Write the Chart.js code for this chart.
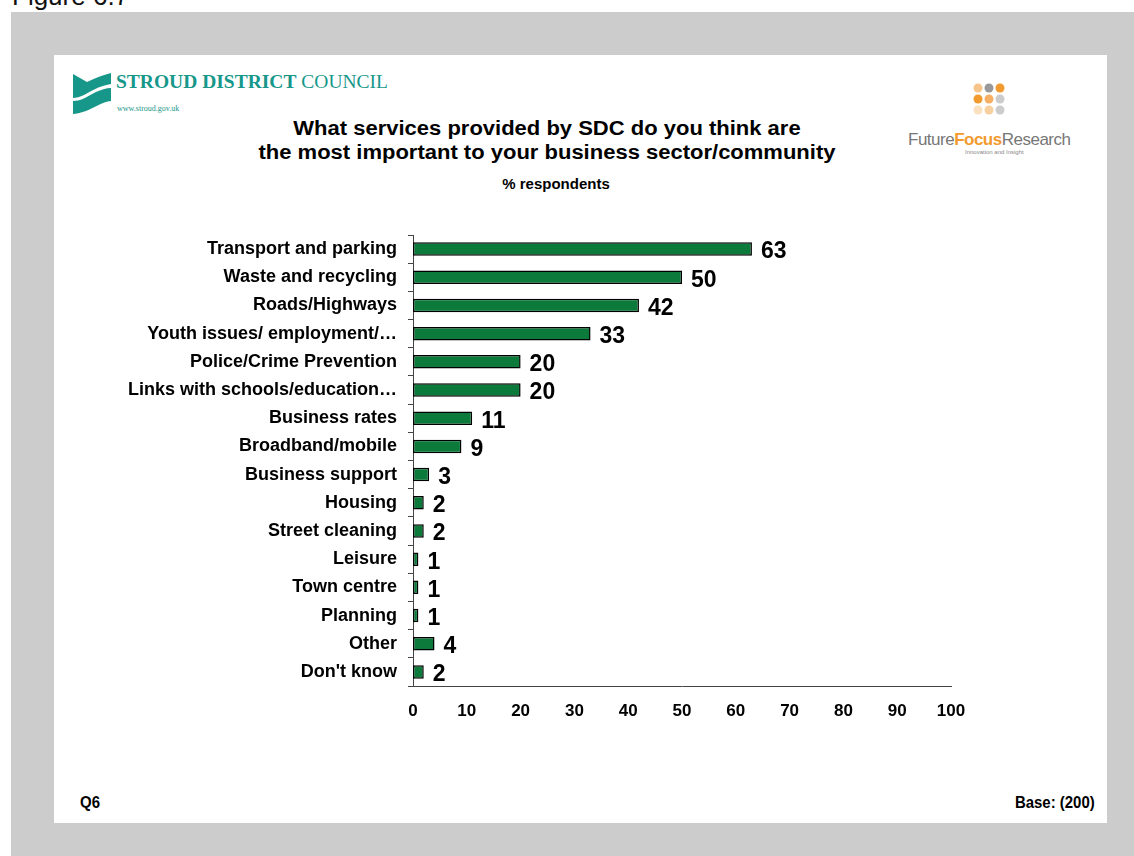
<!DOCTYPE html>
<html>
<head>
<meta charset="utf-8">
<script src="https://cdn.jsdelivr.net/npm/chart.js@4"></script>
<style>
  html, body { margin: 0; padding: 0; background: #fff; width: 1134px; height: 856px; overflow: hidden; font-family: "Liberation Sans", Arial, sans-serif; }
  #figlabel { position: absolute; left: 12px; top: -17px; font-size: 26px; line-height: 26px; color: #111; }
  #grey { position: absolute; left: 11px; top: 12px; right: 0; bottom: 0; background: #cccccc; }
  #slide { position: absolute; left: 54px; top: 55px; width: 1053px; height: 768px; background: #fff; }
  #chartbox { position: absolute; left: 0; top: 0; width: 1134px; height: 856px; }
  .t { position: absolute; white-space: nowrap; }
  #title { left: 0; width: 1094px; top: 116px; text-align: center; font-weight: bold; font-size: 20px; line-height: 24px; color: #000; transform: scaleX(1.1); }
  #sub { left: 0; width: 1112px; top: 175px; text-align: center; font-weight: bold; font-size: 15px; color: #000; }
  #q6 { left: 80px; top: 793px; font-weight: bold; font-size: 17px; transform: scaleX(0.88); transform-origin: left center; }
  #base { right: 39px; top: 793px; font-weight: bold; font-size: 17px; transform: scaleX(0.88); transform-origin: right center; }
  #sdc { left: 116px; top: 71px; font-family: "Liberation Serif", "DejaVu Serif", serif; font-size: 19.5px; color: #17978a; }
  #www { left: 117px; top: 104px; font-family: "Liberation Serif", serif; font-size: 8px; color: #17978a; }
  #ffr { left: 908px; top: 130px; font-size: 17px; color: #777; letter-spacing: -0.5px; }
  #ffr b { color: #f29a2e; }
  #innov { left: 965px; top: 149px; font-size: 6px; color: #888; }
</style>
</head>
<body>
<div id="figlabel">Figure 6.7</div>
<div id="grey"></div>
<div id="slide"></div>

<svg class="t" style="left:70px;top:70px" width="42" height="46" viewBox="0 0 42 46">
  <path d="M3 4 L17 12 C25 8 33 5 41 3 L41 14 C28 16 20 22 14 25 C10 27 6 28 3 28 Z" fill="#17978a"/>
  <path d="M3 31 C12 31 18 26 26 22 C31 20 36 18 41 18 L41 31 C32 32 24 38 16 41 C10 43 6 44 3 44 Z" fill="#17978a"/>
</svg>
<div class="t" id="sdc"><b>STROUD DISTRICT</b> COUNCIL</div>
<div class="t" id="www">www.stroud.gov.uk</div>

<svg class="t" style="left:972px;top:82px" width="36" height="36">
  <circle cx="6" cy="6" r="4.5" fill="#f7c48a"/><circle cx="17" cy="6" r="4.5" fill="#999"/><circle cx="28" cy="6" r="4.5" fill="#f29a2e"/>
  <circle cx="6" cy="17" r="4.5" fill="#f29a2e"/><circle cx="17" cy="17" r="4.5" fill="#f5b066"/><circle cx="28" cy="17" r="4.5" fill="#ccc"/>
  <circle cx="6" cy="28" r="4.5" fill="#fbe0c0"/><circle cx="17" cy="28" r="4.5" fill="#f8d0a0"/><circle cx="28" cy="28" r="4.5" fill="#ccc"/>
</svg>
<div class="t" id="ffr">Future<b>Focus</b>Research</div>
<div class="t" id="innov">Innovation and Insight</div>

<div class="t" id="title">What services provided by SDC do you think are<br>the most important to your business sector/community</div>
<div class="t" id="sub">% respondents</div>
<div class="t" id="q6">Q6</div>
<div class="t" id="base">Base: (200)</div>

<div id="chartbox"><canvas id="chart" width="1134" height="856"></canvas></div>

<script>
// chart data
const categories = [
  'Transport and parking', 'Waste and recycling', 'Roads/Highways',
  'Youth issues/ employment/…', 'Police/Crime Prevention', 'Links with schools/education…',
  'Business rates', 'Broadband/mobile', 'Business support', 'Housing',
  'Street cleaning', 'Leisure', 'Town centre', 'Planning', 'Other', "Don't know"
];
const percentages = [63, 50, 42, 33, 20, 20, 11, 9, 3, 2, 2, 1, 1, 1, 4, 2];
const xTicks = [0, 10, 20, 30, 40, 50, 60, 70, 80, 90, 100];

// value labels at the end of each bar
const valueLabels = {
  id: 'valueLabels',
  afterDatasetsDraw(chart) {
    const ctx = chart.ctx;
    const meta = chart.getDatasetMeta(0);
    ctx.save();
    ctx.font = 'bold 23px "Liberation Sans", Arial, sans-serif';
    ctx.fillStyle = '#000';
    ctx.textAlign = 'left';
    ctx.textBaseline = 'middle';
    meta.data.forEach((bar, i) => {
      ctx.fillText(percentages[i], bar.x + 9, bar.y + 3);
    });
    ctx.restore();
  }
};

const ctx = document.getElementById('chart').getContext('2d');
new Chart(ctx, {
  type: 'bar',
  data: {
    labels: categories,
    datasets: [{
      data: percentages,
      backgroundColor: '#0b7a3a',
      borderColor: '#000',
      borderWidth: 1.5,
      borderSkipped: false,
      barPercentage: 0.48,
      categoryPercentage: 1
    }]
  },
  options: {
    indexAxis: 'y',
    responsive: false,
    animation: false,
    layout: { padding: { left: 0, top: 235, right: 183, bottom: 140 } },
    plugins: { legend: { display: false }, tooltip: { enabled: false } },
    scales: {
      x: {
        min: 0, max: 100,
        afterBuildTicks(axis) { axis.ticks = xTicks.map(v => ({ value: v })); },
        afterFit(axis) { axis.height = 30; },
        grid: { display: false, drawOnChartArea: false, drawTicks: true, tickLength: 6, tickColor: '#444' },
        border: { display: true, color: '#444', width: 1 },
        ticks: { color: '#000', padding: 9, font: { family: '"Liberation Sans", Arial, sans-serif', size: 17, weight: 'bold' } }
      },
      y: {
        afterFit(axis) { axis.width = 413; },
        grid: { display: true, drawOnChartArea: false, drawTicks: true, tickLength: 5, tickColor: '#444', offset: true },
        border: { display: true, color: '#444', width: 1 },
        ticks: { color: '#000', padding: 11, autoSkip: false, font: { family: '"Liberation Sans", Arial, sans-serif', size: 18, weight: 'bold' } }
      }
    }
  },
  plugins: [valueLabels]
});
</script>
</body>
</html>
